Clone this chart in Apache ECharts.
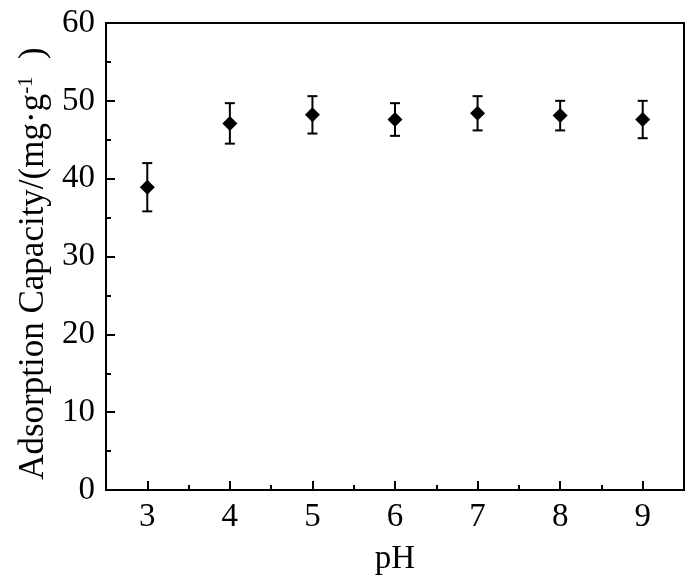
<!DOCTYPE html>
<html>
<head>
<meta charset="utf-8">
<title>Adsorption capacity vs pH</title>
<script src="https://cdn.jsdelivr.net/npm/echarts@6/dist/echarts.min.js"></script>
<style>
    html, body { margin: 0; padding: 0; background: #fff; }
    #chart { width: 700px; height: 581px; }
</style>
</head>
<body>
<div id="chart"></div>
<script>
var ph = [3, 4, 5, 6, 7, 8, 9];
var capacity = [38.9, 47.1, 48.2, 47.6, 48.4, 48.1, 47.6];
var errors = [3.1, 2.6, 2.4, 2.1, 2.2, 1.9, 2.4];
var xTicks = [3, 4, 5, 6, 7, 8, 9];
var xMinorTicks = [3.5, 4.5, 5.5, 6.5, 7.5, 8.5];

var font = 'Liberation Serif';

var points = [];
var bars = [];
ph.forEach(function(p, i) {
    points.push([p, capacity[i]]);
    bars.push([p, capacity[i] - errors[i], capacity[i] + errors[i]]);
});

var chart = echarts.init(document.getElementById('chart'));
chart.setOption({
    animation: false,
    grid: {
        left: 106,
        right: 16,
        top: 23,
        bottom: 88,
        show: true,
        borderColor: '#000',
        borderWidth: 2
    },
    xAxis: [
        {
            type: 'value',
            min: 2.5,
            max: 9.5,
            name: 'pH',
            nameLocation: 'middle',
            nameGap: 53,
            nameTextStyle: { fontFamily: font, fontSize: 33, color: '#000' },
            axisLine: { lineStyle: { color: '#000', width: 2 } },
            axisTick: {
                inside: true,
                length: 9,
                customValues: xTicks,
                lineStyle: { color: '#000', width: 2 }
            },
            axisLabel: {
                customValues: xTicks,
                margin: 11,
                fontFamily: font,
                fontSize: 33,
                color: '#000'
            },
            splitLine: { show: false }
        },
        {
            // only the half-step ticks
            type: 'value',
            min: 2.5,
            max: 9.5,
            position: 'bottom',
            axisLine: { show: false },
            axisTick: {
                inside: true,
                length: 5,
                customValues: xMinorTicks,
                lineStyle: { color: '#000', width: 2 }
            },
            axisLabel: { show: false },
            splitLine: { show: false }
        }
    ],
    yAxis: {
        type: 'value',
        min: 0,
        max: 60,
        interval: 10,
        name: 'Adsorption Capacity/(mg·g{sup|-1}{n|  )}',
        nameLocation: 'middle',
        nameGap: 50,
        nameTextStyle: {
            fontFamily: font,
            fontSize: 35,
            color: '#000',
            padding: [0, 14, 0, 0],
            rich: {
                sup: { fontFamily: font, fontSize: 21, color: '#000', verticalAlign: 'top', lineHeight: 35 },
                n: { fontFamily: font, fontSize: 35, color: '#000' }
            }
        },
        axisLine: { lineStyle: { color: '#000', width: 2 } },
        axisTick: {
            inside: true,
            length: 9,
            lineStyle: { color: '#000', width: 2 }
        },
        minorTick: {
            show: true,
            splitNumber: 2,
            length: 5,
            lineStyle: { color: '#000', width: 2 }
        },
        axisLabel: {
            margin: 11,
            fontFamily: font,
            fontSize: 33,
            color: '#000'
        },
        splitLine: { show: false }
    },
    series: [
        {
            name: 'error',
            type: 'custom',
            data: bars,
            z: 2,
            renderItem: function(params, api) {
                var x = api.value(0);
                var lo = api.coord([x, api.value(1)]);
                var hi = api.coord([x, api.value(2)]);
                var half = 5;
                var style = { stroke: '#000', lineWidth: 2 };
                return {
                    type: 'group',
                    children: [
                        { type: 'line', shape: { x1: lo[0], y1: lo[1], x2: hi[0], y2: hi[1] }, style: style },
                        { type: 'line', shape: { x1: hi[0] - half, y1: hi[1], x2: hi[0] + half, y2: hi[1] }, style: style },
                        { type: 'line', shape: { x1: lo[0] - half, y1: lo[1], x2: lo[0] + half, y2: lo[1] }, style: style }
                    ]
                };
            }
        },
        {
            name: 'capacity',
            type: 'scatter',
            data: points,
            symbol: 'diamond',
            symbolSize: 15,
            z: 3,
            itemStyle: { color: '#000', opacity: 1 }
        }
    ]
});
</script>
</body>
</html>
